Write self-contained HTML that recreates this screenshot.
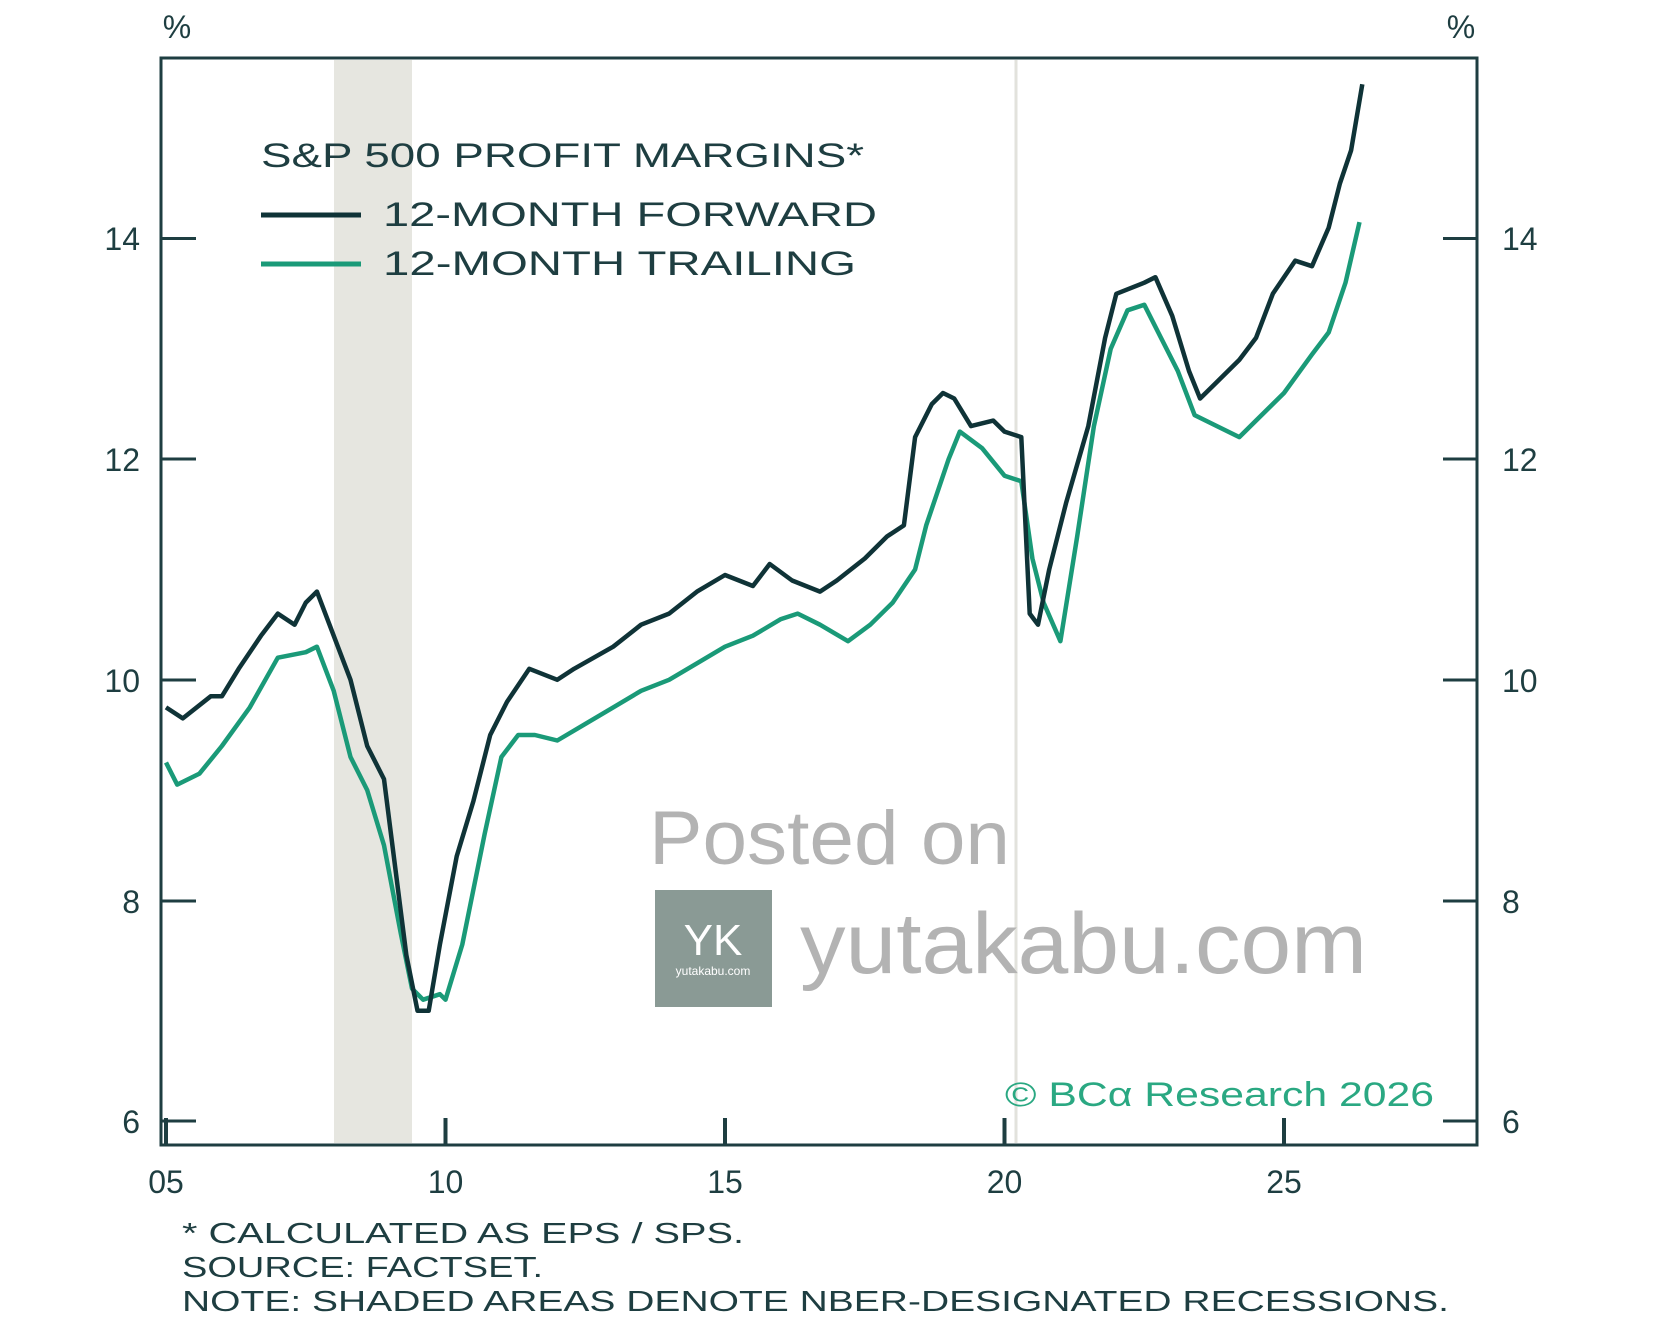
<!DOCTYPE html>
<html><head><meta charset="utf-8"><style>
html,body{margin:0;padding:0;background:#fff;}
svg{display:block;}
text{font-family:"Liberation Sans",sans-serif;}
</style></head><body>
<svg id="s" width="1654" height="1323" viewBox="0 0 1654 1323" xmlns="http://www.w3.org/2000/svg">
<rect x="334" y="60" width="78" height="1083" fill="#e6e6e0"/>
<line x1="1016" y1="60" x2="1016" y2="1143" stroke="#e2e2dc" stroke-width="3"/>
<g stroke="#1e3e41" stroke-width="3" fill="none">
<rect x="161" y="58" width="1316" height="1087"/>
<line x1="161" y1="238.5" x2="196" y2="238.5"/><line x1="161" y1="459" x2="196" y2="459"/><line x1="161" y1="680" x2="196" y2="680"/><line x1="161" y1="901" x2="196" y2="901"/><line x1="161" y1="1121" x2="196" y2="1121"/>
<line x1="1443" y1="238.5" x2="1477" y2="238.5"/><line x1="1443" y1="459" x2="1477" y2="459"/><line x1="1443" y1="680" x2="1477" y2="680"/><line x1="1443" y1="901" x2="1477" y2="901"/><line x1="1443" y1="1121" x2="1477" y2="1121"/>
<line x1="166" y1="1118" x2="166" y2="1145" stroke-width="4"/><line x1="445.5" y1="1118" x2="445.5" y2="1145" stroke-width="4"/><line x1="725" y1="1118" x2="725" y2="1145" stroke-width="4"/><line x1="1004.5" y1="1118" x2="1004.5" y2="1145" stroke-width="4"/><line x1="1284" y1="1118" x2="1284" y2="1145" stroke-width="4"/>
</g>
<g fill="#1e3e41" font-size="32">
<text x="177" y="38" text-anchor="middle">%</text><text x="1461" y="38" text-anchor="middle">%</text>
<g text-anchor="end"><text x="140" y="250">14</text><text x="140" y="471">12</text><text x="140" y="692">10</text><text x="140" y="913">8</text><text x="140" y="1133">6</text></g>
<g text-anchor="start"><text x="1502" y="250">14</text><text x="1502" y="471">12</text><text x="1502" y="692">10</text><text x="1502" y="913">8</text><text x="1502" y="1133">6</text></g>
<g text-anchor="middle"><text x="166" y="1193">05</text><text x="445.5" y="1193">10</text><text x="725" y="1193">15</text><text x="1004.5" y="1193">20</text><text x="1284" y="1193">25</text></g>
<g font-size="29"><text x="182" y="1243" textLength="562" lengthAdjust="spacingAndGlyphs">* CALCULATED AS EPS / SPS.</text><text x="182" y="1277" textLength="361" lengthAdjust="spacingAndGlyphs">SOURCE: FACTSET.</text><text x="182" y="1311" textLength="1267" lengthAdjust="spacingAndGlyphs">NOTE: SHADED AREAS DENOTE NBER-DESIGNATED RECESSIONS.</text></g>
<text x="261" y="167" font-size="34" textLength="603" lengthAdjust="spacingAndGlyphs">S&amp;P 500 PROFIT MARGINS*</text>
<text x="383" y="226" font-size="34" textLength="494" lengthAdjust="spacingAndGlyphs">12-MONTH FORWARD</text>
<text x="383" y="275" font-size="34" textLength="473" lengthAdjust="spacingAndGlyphs">12-MONTH TRAILING</text>
</g>
<line x1="261" y1="215" x2="361" y2="215" stroke="#0f3337" stroke-width="5"/>
<line x1="261" y1="264" x2="361" y2="264" stroke="#1a9a78" stroke-width="5"/>
<text x="1005" y="1106" font-size="34" fill="#2aa882" font-family="Liberation Serif,serif" textLength="429" lengthAdjust="spacingAndGlyphs">© BCα Research 2026</text>
<path id="tr" fill="none" stroke="#1a9a78" stroke-width="4.5" stroke-linejoin="round"/>
<path id="fw" fill="none" stroke="#0f3337" stroke-width="4.5" stroke-linejoin="round"/>
<text x="649" y="864" font-size="76" fill="#b3b3b3" textLength="361" lengthAdjust="spacingAndGlyphs">Posted on</text>
<rect x="655" y="890" width="117" height="117" fill="#8a9a95"/>
<text x="713" y="955" font-size="44" fill="#fff" text-anchor="middle" font-family="Liberation Serif,serif">YK</text>
<text x="713" y="975" font-size="12" fill="#fff" text-anchor="middle" font-family="Liberation Serif,serif">yutakabu.com</text>
<text x="800" y="973" font-size="86" fill="#b3b3b3" textLength="567" lengthAdjust="spacingAndGlyphs">yutakabu.com</text>
</svg>
<script>
function X(y){return 166+(y-2005)*55.9;}function Y(v){return 1121-(v-6)*110.3;}
function P(a){var d="";for(var i=0;i<a.length;i+=2){d+=(i?"L":"M")+X(a[i]).toFixed(1)+","+Y(a[i+1]).toFixed(1);}return d;}
var fw=[2005,9.75,2005.3,9.65,2005.8,9.85,2006,9.85,2006.3,10.1,2006.7,10.4,2007,10.6,2007.3,10.5,2007.5,10.7,2007.7,10.8,2008,10.4,2008.3,10,2008.6,9.4,2008.9,9.1,2009.1,8.3,2009.3,7.5,2009.5,7,2009.7,7,2009.9,7.6,2010.2,8.4,2010.5,8.9,2010.8,9.5,2011.1,9.8,2011.5,10.1,2012,10,2012.3,10.1,2013,10.3,2013.5,10.5,2014,10.6,2014.5,10.8,2015,10.95,2015.5,10.85,2015.8,11.05,2016.2,10.9,2016.7,10.8,2017,10.9,2017.5,11.1,2017.9,11.3,2018.2,11.4,2018.4,12.2,2018.7,12.5,2018.9,12.6,2019.1,12.55,2019.4,12.3,2019.8,12.35,2020,12.25,2020.3,12.2,2020.45,10.6,2020.6,10.5,2020.8,11,2021.1,11.6,2021.5,12.3,2021.8,13.1,2022,13.5,2022.5,13.6,2022.7,13.65,2023,13.3,2023.3,12.8,2023.5,12.55,2023.8,12.7,2024.2,12.9,2024.5,13.1,2024.8,13.5,2025.2,13.8,2025.5,13.75,2025.8,14.1,2026,14.5,2026.2,14.8,2026.4,15.4];
var tr=[2005,9.25,2005.2,9.05,2005.6,9.15,2006,9.4,2006.5,9.75,2007,10.2,2007.5,10.25,2007.7,10.3,2008,9.9,2008.3,9.3,2008.6,9,2008.9,8.5,2009.2,7.7,2009.4,7.2,2009.6,7.1,2009.9,7.15,2010,7.1,2010.3,7.6,2010.7,8.6,2011,9.3,2011.3,9.5,2011.6,9.5,2012,9.45,2012.5,9.6,2013,9.75,2013.5,9.9,2014,10,2014.5,10.15,2015,10.3,2015.5,10.4,2016,10.55,2016.3,10.6,2016.7,10.5,2017.2,10.35,2017.6,10.5,2018,10.7,2018.4,11,2018.6,11.4,2019,12,2019.2,12.25,2019.6,12.1,2020,11.85,2020.3,11.8,2020.5,11.1,2020.7,10.7,2021,10.35,2021.3,11.3,2021.6,12.3,2021.9,13,2022.2,13.35,2022.5,13.4,2022.8,13.1,2023.1,12.8,2023.4,12.4,2023.8,12.3,2024.2,12.2,2024.5,12.35,2025,12.6,2025.5,12.95,2025.8,13.15,2026.1,13.6,2026.35,14.15];
document.getElementById("fw").setAttribute("d",P(fw));document.getElementById("tr").setAttribute("d",P(tr));
</script>
</body></html>
